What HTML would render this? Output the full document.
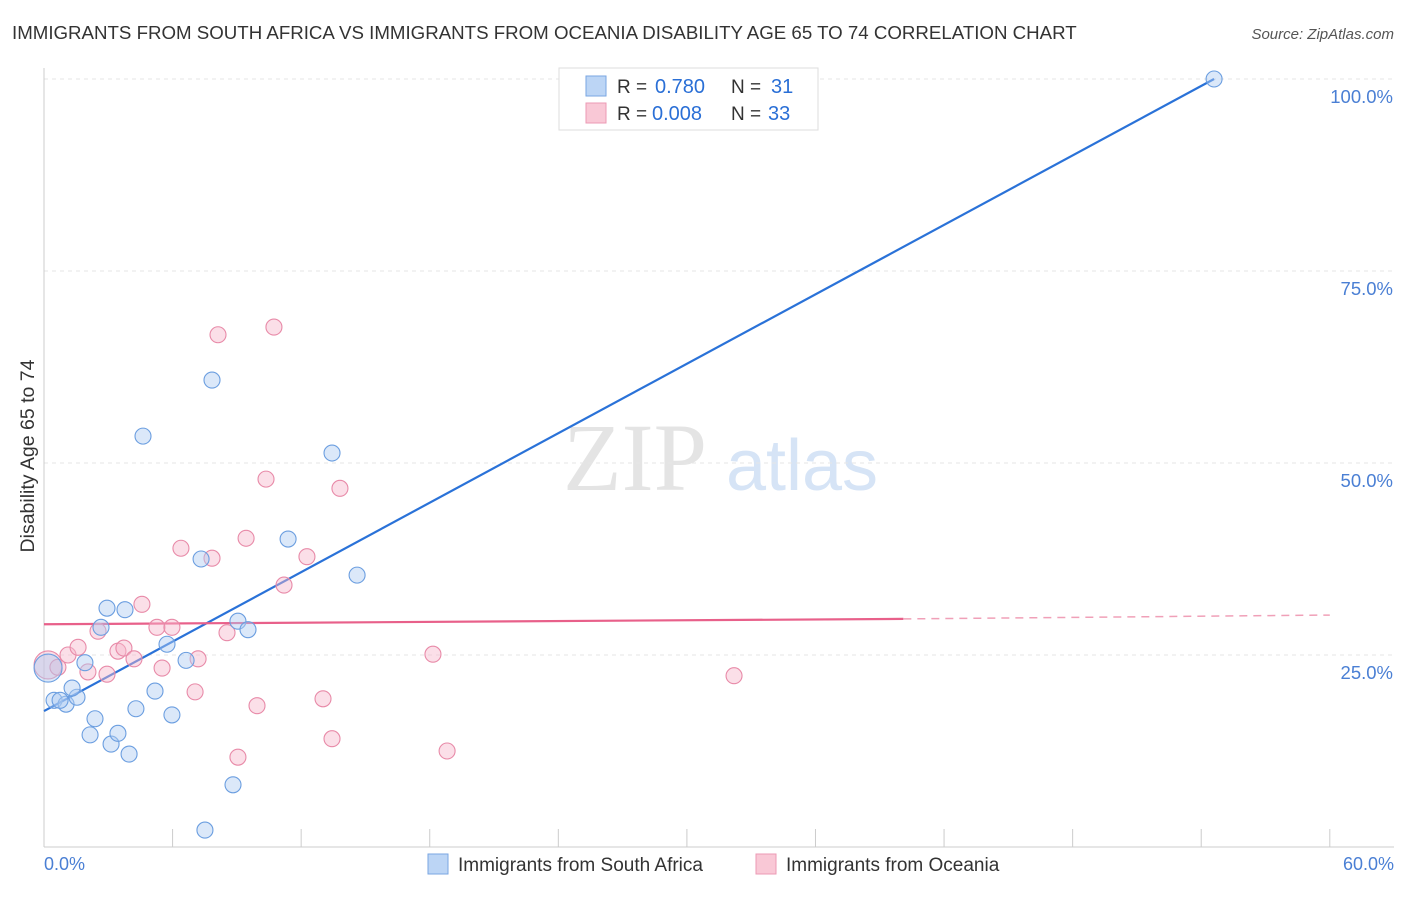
<!DOCTYPE html>
<html><head><meta charset="utf-8"><style>
body{margin:0;background:#fff;font-family:"Liberation Sans",sans-serif}
</style></head><body>
<svg width="1406" height="892" xmlns="http://www.w3.org/2000/svg" id="chart">
<text x="12" y="39" font-size="18.7" fill="#333">IMMIGRANTS FROM SOUTH AFRICA VS IMMIGRANTS FROM OCEANIA DISABILITY AGE 65 TO 74 CORRELATION CHART</text>
<text x="1394" y="39" font-size="15" fill="#555" font-style="italic" text-anchor="end">Source: ZipAtlas.com</text>
<text x="635" y="490" font-size="96" fill="#e4e4e4" font-family="Liberation Serif,serif" text-anchor="middle">ZIP</text>
<text x="802" y="490" font-size="72" fill="#d6e4f6" text-anchor="middle">atlas</text>
<g id="grid"></g><g id="axes"></g><g id="lines"></g><g id="points"></g>
<text x="34" y="456" font-size="19.5" fill="#333" transform="rotate(-90 34 456)" text-anchor="middle">Disability Age 65 to 74</text>
<text x="44" y="870" font-size="18" fill="#4a7fd4">0.0%</text>
<text x="1394" y="870" font-size="18" fill="#4a7fd4" text-anchor="end">60.0%</text>
<g>
<rect x="559" y="68" width="259" height="62" fill="#fff" stroke="#ddd"/>
<rect x="586" y="76" width="20" height="20" fill="#bcd5f5" stroke="#7aa6e2"/>
<rect x="586" y="103" width="20" height="20" fill="#f9c8d6" stroke="#ec9ab4"/>
<text x="617" y="93" font-size="19" fill="#333">R =</text>
<text x="655" y="93" font-size="20" fill="#2a6fd6">0.780</text>
<text x="731" y="93" font-size="19" fill="#333">N =</text>
<text x="771" y="93" font-size="20" fill="#2a6fd6">31</text>
<text x="617" y="120" font-size="19" fill="#333">R =</text>
<text x="652" y="120" font-size="20" fill="#2a6fd6">0.008</text>
<text x="731" y="120" font-size="19" fill="#333">N =</text>
<text x="768" y="120" font-size="20" fill="#2a6fd6">33</text>
</g>
<g>
<rect x="428" y="854" width="20" height="20" fill="#bcd5f5" stroke="#7aa6e2"/>
<text x="458" y="871" font-size="19" fill="#333">Immigrants from South Africa</text>
<rect x="756" y="854" width="20" height="20" fill="#f9c8d6" stroke="#ec9ab4"/>
<text x="786" y="871" font-size="19" fill="#333">Immigrants from Oceania</text>
</g>
</svg>
<script>
const yTicks=[25,50,75,100];
const xTicks=[0,6,12,18,24,30,36,42,48,54,60];
const blueX=[0.47,1.03,1.54,1.31,1.91,2.38,2.15,2.66,2.94,3.13,3.45,3.78,3.97,4.29,4.62,5.18,5.74,5.97,6.63,7.33,7.84,7.51,8.82,9.05,9.52,11.39,13.44,14.61,54.6,0.19,0.75];
const blueY=[19.1,18.6,19.5,20.7,24.0,16.7,14.6,28.6,31.1,13.4,14.8,30.9,12.1,18.0,53.5,20.3,26.4,17.2,24.3,37.5,60.8,2.2,8.1,29.4,28.3,40.1,51.3,35.4,100,23.3,19.1];
const pinkX=[0.19,0.65,1.12,1.59,2.05,2.52,2.94,3.45,3.73,4.20,4.57,5.27,5.51,5.97,6.39,7.05,7.19,7.84,8.12,8.54,9.05,9.43,9.94,10.36,10.73,11.20,12.27,13.02,13.44,13.81,18.15,18.81,32.2];
const pinkY=[23.7,23.4,25.0,26.0,22.8,28.1,22.5,25.5,25.9,24.5,31.6,28.6,23.3,28.6,38.9,20.2,24.5,37.6,66.7,27.9,11.7,40.2,18.4,47.9,67.7,34.1,37.8,19.3,14.1,46.7,25.1,12.5,22.3];
const blueTrend=[[0,17.7],[54.6,100]];
const pinkTrend=[[0,29.0],[40.1,29.7]];
const pinkDash=[[40.1,29.7],[60,30.2]];
const X=v=>44+v*21.43, Y=v=>847-v*7.68;
const NS="http://www.w3.org/2000/svg";
function mk(p,t,a){const e=document.createElementNS(NS,t);for(const k in a)e.setAttribute(k,a[k]);document.getElementById(p).appendChild(e);return e;}
yTicks.forEach(t=>{
 const l=mk('grid','line',{x1:44,x2:1394,y1:Y(t),y2:Y(t),stroke:'#e6e6e6','stroke-dasharray':'4 4'});
 
 
 const tx=mk('grid','text',{x:1393,y:Y(t)+24,'font-size':18.5,fill:'#4a7fd4','text-anchor':'end'});
 tx.textContent=t.toFixed(1)+'%';
 
 
});
const ax=mk('axes','line',{x1:44,x2:44,y1:68,y2:847,stroke:'#ccc'});


const bx=mk('axes','line',{x1:44,x2:1394,y1:847,y2:847,stroke:'#ccc'});


xTicks.forEach(t=>{
 const l=mk('axes','line',{x1:X(t),x2:X(t),y1:829,y2:847,stroke:'#ccc'});
 
 
});
function line(pts,col,dash,name){
 const a={x1:X(pts[0][0]),y1:Y(pts[0][1]),x2:X(pts[1][0]),y2:Y(pts[1][1]),stroke:col,'stroke-width':2.2};
 if(dash)a['stroke-dasharray']='8 6';
 const l=mk('lines','line',a);
 
 
}
line(blueTrend,'#2a72d8',false,'south-africa-trend-line');
line(pinkTrend,'#e8608a',false,'oceania-trend-line');
(function(){const a={x1:X(pinkDash[0][0]),y1:Y(pinkDash[0][1]),x2:X(pinkDash[1][0]),y2:Y(pinkDash[1][1]),stroke:'#f0a0b8','stroke-width':1.5,'stroke-dasharray':'8 6'};const l=mk('lines','line',a);

})();
function pts(xs,ys,fill,st,name){
 xs.forEach((x,i)=>{
  const r=(i===0&&name==='oceania-point')||(name==='south-africa-point'&&i===29)?14:8;
  const c=mk('points','circle',{cx:X(x),cy:Y(ys[i]),r:r,fill:fill,'fill-opacity':0.45,stroke:st,'stroke-width':1.1});
  
  
 });
}
pts(pinkX,pinkY,'#f7b8cb','#e88aa8','oceania-point');
pts(blueX,blueY,'#b0cdf2','#6b9ee0','south-africa-point');
</script>
</body></html>
